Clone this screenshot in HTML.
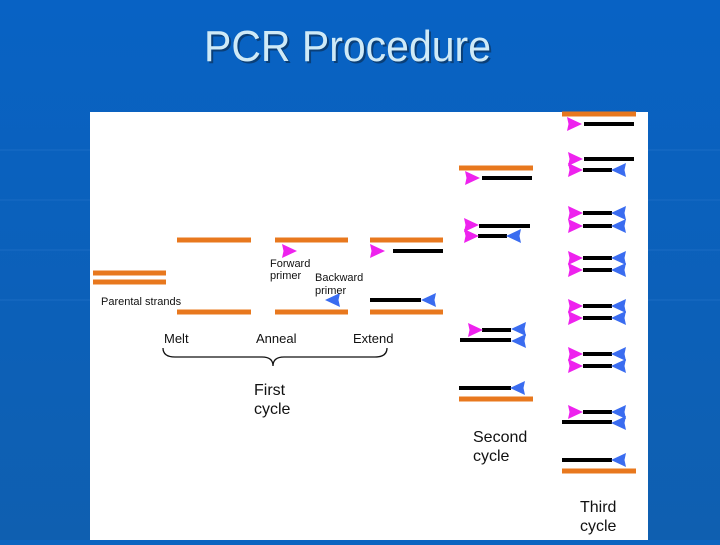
<!DOCTYPE html>
<html><head><meta charset="utf-8"><style>
body{margin:0;width:720px;height:540px;overflow:hidden;background:#0b64c0;font-family:"Liberation Sans",sans-serif}
</style></head><body>
<svg width="720" height="540" xmlns="http://www.w3.org/2000/svg">
<defs>
<linearGradient id="bg" x1="0" y1="0" x2="0" y2="1"><stop offset="0" stop-color="#0862c4"/><stop offset="1" stop-color="#0f5fb0"/></linearGradient>
<g id="f"><polygon points="0,-7 15,0 0,7 1.5,0" fill="#ee22ee"/></g>
<g id="b"><polygon points="15,-7 0,0 15,7 13.5,0" fill="#3a6cf0"/></g>
</defs>
<rect width="720" height="540" fill="url(#bg)"/>
<g stroke="#2a78cc" stroke-width="1" opacity="0.5">
<line x1="0" y1="150" x2="90" y2="150"/><line x1="0" y1="200" x2="90" y2="200"/><line x1="0" y1="250" x2="90" y2="250"/><line x1="0" y1="300" x2="90" y2="300"/>
<line x1="648" y1="150" x2="720" y2="150"/><line x1="648" y1="200" x2="720" y2="200"/><line x1="648" y1="250" x2="720" y2="250"/><line x1="648" y1="300" x2="720" y2="300"/>
</g>
<text x="204" y="61" font-family="Liberation Sans,sans-serif" font-size="44" fill="#0a3f78" transform="translate(2,2)" textLength="287" lengthAdjust="spacingAndGlyphs">PCR Procedure</text>
<text x="204" y="61" font-family="Liberation Sans,sans-serif" font-size="44" fill="#cfeaf7" textLength="287" lengthAdjust="spacingAndGlyphs">PCR Procedure</text>
<rect x="90" y="112" width="558" height="428" fill="#fff"/>
<g stroke-width="5" stroke="#e8781e">
<line x1="93" y1="273" x2="166" y2="273"/><line x1="93" y1="282" x2="166" y2="282"/>
<line x1="177" y1="240" x2="251" y2="240"/><line x1="177" y1="312" x2="251" y2="312"/>
<line x1="275" y1="240" x2="348" y2="240"/><line x1="275" y1="312" x2="348" y2="312"/>
<line x1="370" y1="240" x2="443" y2="240"/><line x1="370" y1="312" x2="443" y2="312"/>
<line x1="459" y1="168" x2="533" y2="168"/><line x1="459" y1="399" x2="533" y2="399"/>
<line x1="562" y1="114" x2="636" y2="114"/><line x1="562" y1="471" x2="636" y2="471"/>
</g>
<g stroke-width="4" stroke="#000">
<line x1="393" y1="251" x2="443" y2="251"/><line x1="370" y1="300" x2="421" y2="300"/>
<line x1="482" y1="178" x2="532" y2="178"/>
<line x1="479" y1="226" x2="530" y2="226"/><line x1="478" y1="236" x2="507" y2="236"/>
<line x1="482" y1="330" x2="511" y2="330"/><line x1="460" y1="340" x2="511" y2="340"/>
<line x1="459" y1="388" x2="511" y2="388"/>
<line x1="584" y1="124" x2="634" y2="124"/>
<line x1="584" y1="159" x2="634" y2="159"/><line x1="583" y1="170" x2="612" y2="170"/>
<line x1="583" y1="213" x2="612" y2="213"/><line x1="583" y1="226" x2="612" y2="226"/>
<line x1="583" y1="258" x2="612" y2="258"/><line x1="583" y1="270" x2="612" y2="270"/>
<line x1="583" y1="306" x2="612" y2="306"/><line x1="583" y1="318" x2="612" y2="318"/>
<line x1="583" y1="354" x2="612" y2="354"/><line x1="583" y1="366" x2="612" y2="366"/>
<line x1="583" y1="412" x2="612" y2="412"/><line x1="562" y1="422" x2="612" y2="422"/>
<line x1="562" y1="460" x2="612" y2="460"/>
</g>
<use href="#f" x="282" y="251"/><use href="#b" x="325" y="300"/>
<use href="#f" x="370" y="251"/><use href="#b" x="421" y="300"/>
<use href="#f" x="465" y="178"/>
<use href="#f" x="464" y="225"/><use href="#f" x="464" y="236"/><use href="#b" x="506" y="236"/>
<use href="#f" x="468" y="330"/><use href="#b" x="511" y="329"/><use href="#b" x="511" y="341"/>
<use href="#b" x="510" y="388"/>
<use href="#f" x="567" y="124"/>
<use href="#f" x="568" y="159"/><use href="#f" x="568" y="170"/><use href="#b" x="611" y="170"/>
<use href="#f" x="568" y="213"/><use href="#b" x="611" y="213"/><use href="#f" x="568" y="226"/><use href="#b" x="611" y="226"/>
<use href="#f" x="568" y="258"/><use href="#b" x="611" y="258"/><use href="#f" x="568" y="270"/><use href="#b" x="611" y="270"/>
<use href="#f" x="568" y="306"/><use href="#b" x="611" y="306"/><use href="#f" x="568" y="318"/><use href="#b" x="611" y="318"/>
<use href="#f" x="568" y="354"/><use href="#b" x="611" y="354"/><use href="#f" x="568" y="366"/><use href="#b" x="611" y="366"/>
<use href="#f" x="568" y="412"/><use href="#b" x="611" y="412"/><use href="#b" x="611" y="423"/>
<use href="#b" x="611" y="460"/>
<g font-family="Liberation Sans,sans-serif" fill="#111">
<text x="270" y="267" font-size="11">Forward</text><text x="270" y="279" font-size="11">primer</text>
<text x="315" y="281" font-size="11">Backward</text><text x="315" y="294" font-size="11">primer</text>
<text x="101" y="305" font-size="11">Parental strands</text>
<text x="164" y="343" font-size="13">Melt</text>
<text x="256" y="343" font-size="13">Anneal</text>
<text x="353" y="343" font-size="13">Extend</text>
<text x="254" y="395" font-size="16">First</text><text x="254" y="414" font-size="16">cycle</text>
<text x="473" y="442" font-size="16">Second</text><text x="473" y="461" font-size="16">cycle</text>
<text x="580" y="512" font-size="16">Third</text><text x="580" y="531" font-size="16">cycle</text>
</g>
<path d="M163,348 Q163,357 175,357 L262,357 Q273,357 273,366 Q273,357 284,357 L375,357 Q387,357 387,348" fill="none" stroke="#111" stroke-width="1.3"/>
</svg>
</body></html>
